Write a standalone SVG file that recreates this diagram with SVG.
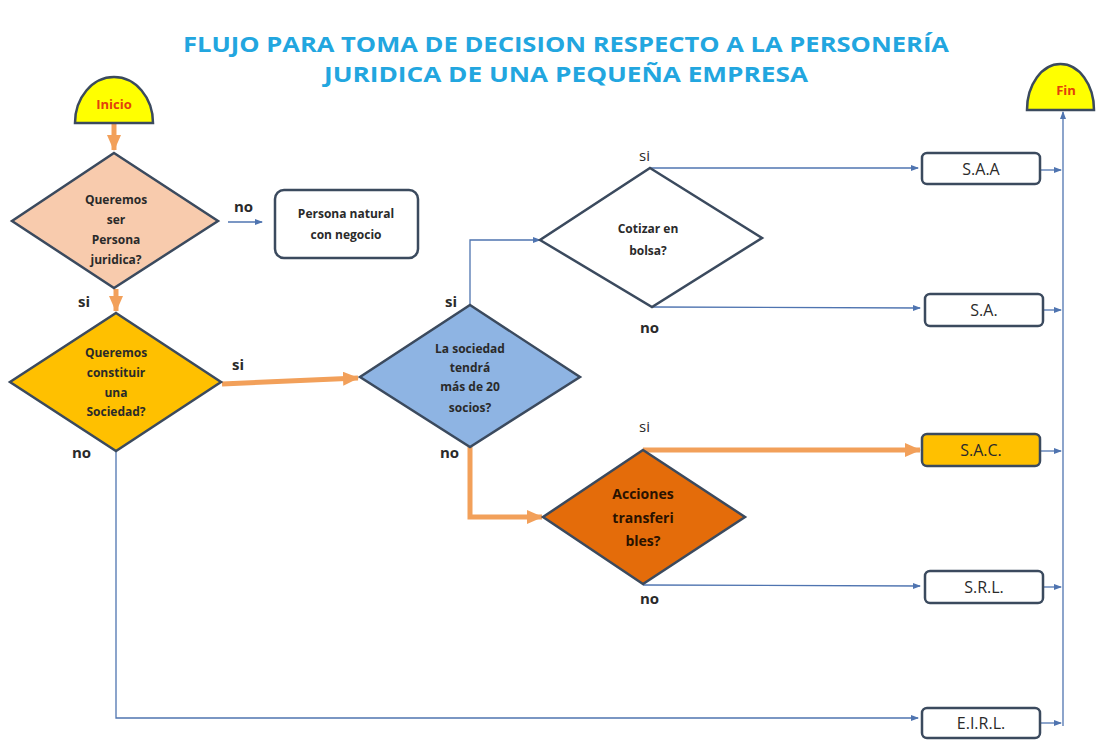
<svg xmlns="http://www.w3.org/2000/svg" width="1096" height="740" viewBox="0 0 1096 740">
<defs>
<marker id="ab" markerWidth="8" markerHeight="8" refX="7" refY="4" orient="auto" markerUnits="userSpaceOnUse"><path d="M0,1 L8,4 L0,7 Z" fill="#4f74b0"/></marker>
<marker id="ao" markerWidth="16" markerHeight="14" refX="15" refY="7" orient="auto" markerUnits="userSpaceOnUse"><path d="M0,0 L16,7 L0,14 Z" fill="#f2a05a"/></marker>
<style>
.title{font-family:"Open Sans","Liberation Sans",sans-serif;font-weight:bold;font-size:22px;fill:#22a6df;text-anchor:middle}
.dia{stroke:#3b4a5e;stroke-width:2.5}
.box{fill:#fff;stroke:#3b4a5e;stroke-width:2.5}
.t{font-family:"Open Sans","Liberation Sans",sans-serif;font-size:12px;font-weight:bold;fill:#2a2a2a;text-anchor:middle}
.bt{font-family:"Open Sans","Liberation Sans",sans-serif;font-size:16px;fill:#2a2a2a;text-anchor:middle}
.lb{font-family:"Open Sans","Liberation Sans",sans-serif;font-size:15px;font-weight:bold;fill:#2a2a2a}
.lbn{font-family:"Open Sans","Liberation Sans",sans-serif;font-size:15px;fill:#2a2a2a}
.cb{fill:none;stroke:#4f74b0;stroke-width:1.3}
.co{fill:none;stroke:#f2a05a;stroke-width:5}
.term{fill:#ffff00;stroke:#3b4a5e;stroke-width:2.5}
.tt{font-family:"Open Sans","Liberation Sans",sans-serif;font-size:13px;font-weight:bold;fill:#e2400c;text-anchor:middle}
</style>
</defs>
<rect width="1096" height="740" fill="#fff"/>
<text class="title" x="566" y="52" textLength="766" lengthAdjust="spacingAndGlyphs">FLUJO PARA TOMA DE DECISION RESPECTO A LA PERSONERÍA</text>
<text class="title" x="566" y="82" textLength="484" lengthAdjust="spacingAndGlyphs">JURIDICA DE UNA PEQUEÑA EMPRESA</text>

<g id="connectors">
<path class="co" d="M114,124 L114,150" marker-end="url(#ao)"/>
<path class="cb" d="M228,222 L262,222" marker-end="url(#ab)"/>
<path class="co" d="M116,289 L116,311" marker-end="url(#ao)"/>
<path class="co" d="M222,384 L358,378" marker-end="url(#ao)"/>
<path class="cb" d="M116,450 L116,718 L918,718" marker-end="url(#ab)"/>
<path class="cb" d="M470,305 L470,240 L540,240" marker-end="url(#ab)"/>
<path class="co" d="M470,447 L470,517 L542,517" marker-end="url(#ao)"/>
<path class="cb" d="M650,168 L918,168" marker-end="url(#ab)"/>
<path class="cb" d="M652,307 L920,308" marker-end="url(#ab)"/>
<path class="co" d="M643,450 L920,450" marker-end="url(#ao)"/>
<path class="cb" d="M643,585 L920,586" marker-end="url(#ab)"/>
<path class="cb" d="M1041,170 L1061,170" marker-end="url(#ab)"/>
<path class="cb" d="M1044,310 L1061,310" marker-end="url(#ab)"/>
<path class="cb" d="M1041,451 L1061,451" marker-end="url(#ab)"/>
<path class="cb" d="M1044,587 L1061,587" marker-end="url(#ab)"/>
<path class="cb" d="M1041,723 L1061,723" marker-end="url(#ab)"/>
<path class="cb" d="M1063,726 L1063,112" marker-end="url(#ab)"/>
<text class="lb" x="234" y="212">no</text>
<text class="lb" x="78" y="307">si</text>
<text class="lb" x="232" y="370">si</text>
<text class="lb" x="72" y="458">no</text>
<text class="lb" x="445" y="307">si</text>
<text class="lb" x="440" y="458">no</text>
<text class="lbn" x="639" y="161">si</text>
<text class="lb" x="640" y="333">no</text>
<text class="lbn" x="639" y="432">si</text>
<text class="lb" x="640" y="604">no</text>
</g>

<g id="inicio">
<path class="term" d="M75,123 A39,46 0 0 1 153,123 Z"/>
<text class="tt" x="114" y="109">Inicio</text>
</g>
<g id="fin">
<path class="term" d="M1027,110 A33.5,46 0 0 1 1094,110 Z"/>
<text class="tt" x="1066" y="95">Fin</text>
</g>

<g id="d-persona">
<polygon class="dia" fill="#f8cbad" points="114,153 218,221 114,288 12,221"/>
<text class="t" x="116" y="204">Queremos</text>
<text class="t" x="116" y="224">ser</text>
<text class="t" x="116" y="244">Persona</text>
<text class="t" x="116" y="264">juridica?</text>
</g>
<g id="persona-natural">
<rect class="box" x="275" y="190" width="143" height="68" rx="9"/>
<text class="t" x="346" y="218">Persona natural</text>
<text class="t" x="346" y="239">con negocio</text>
</g>
<g id="d-sociedad">
<polygon class="dia" fill="#ffc000" points="116,313 221,382 116,451 10,382"/>
<text class="t" x="116" y="357">Queremos</text>
<text class="t" x="116" y="377">constituir</text>
<text class="t" x="116" y="397">una</text>
<text class="t" x="116" y="416">Sociedad?</text>
</g>
<g id="d-socios">
<polygon class="dia" fill="#8eb4e3" points="470,305 580,377 470,447 360,377"/>
<text class="t" x="470" y="353">La sociedad</text>
<text class="t" x="470" y="372">tendrá</text>
<text class="t" x="470" y="391">más de 20</text>
<text class="t" x="470" y="412">socios?</text>
</g>
<g id="d-cotizar">
<polygon class="dia" fill="#fff" points="650,168 762,238 652,307 540,240"/>
<text class="t" x="648" y="233">Cotizar en</text>
<text class="t" x="648" y="255">bolsa?</text>
</g>
<g id="d-acciones">
<polygon class="dia" fill="#e46c0a" points="643,450 745,517 643,584 543,517"/>
<text class="t" x="643" y="499" style="font-size:14px;fill:#2a1200">Acciones</text>
<text class="t" x="643" y="523" style="font-size:14px;fill:#2a1200">transferi</text>
<text class="t" x="643" y="546" style="font-size:14px;fill:#2a1200">bles?</text>
</g>
<g id="saa">
<rect class="box" x="922" y="153" width="118" height="31" rx="5"/>
<text class="bt" x="981" y="175">S.A.A</text>
</g>
<g id="sa">
<rect class="box" x="925" y="294" width="118" height="32" rx="5"/>
<text class="bt" x="984" y="316">S.A.</text>
</g>
<g id="sac">
<rect class="box" style="fill:#ffc000" x="922" y="434" width="118" height="32" rx="5"/>
<text class="bt" x="981" y="456">S.A.C.</text>
</g>
<g id="srl">
<rect class="box" x="925" y="571" width="118" height="32" rx="5"/>
<text class="bt" x="984" y="593">S.R.L.</text>
</g>
<g id="eirl">
<rect class="box" x="922" y="708" width="118" height="30" rx="5"/>
<text class="bt" x="981" y="729">E.I.R.L.</text>
</g>
</svg>
